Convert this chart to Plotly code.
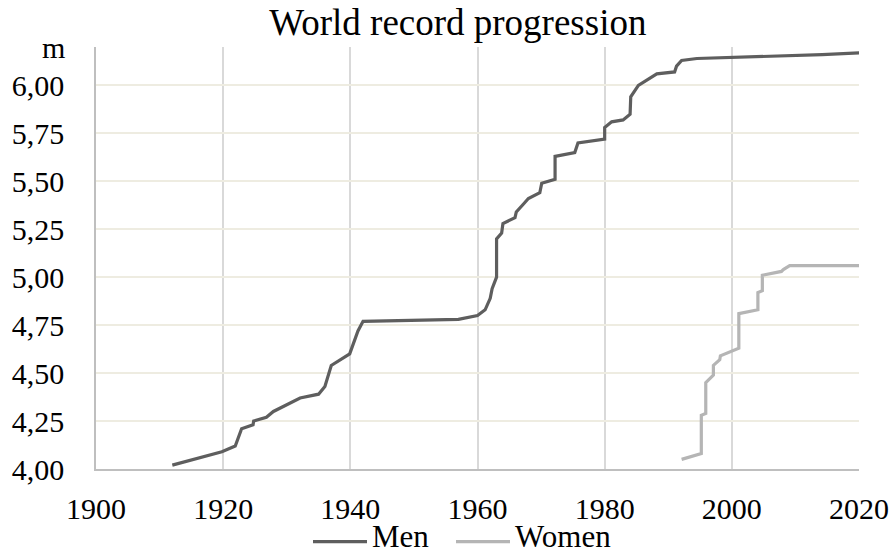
import plotly.graph_objects as go

# Men's pole vault world record progression (year, metres)
men_years = [1912.0, 1919.8, 1921.9, 1922.9, 1924.7, 1924.8, 1926.8, 1927.9, 1932.1, 1935.0,
             1936.0, 1937.0, 1939.9, 1941.2, 1942.0, 1957.0, 1960.0, 1961.2, 1962.0, 1962.3,
             1963.0, 1963.0, 1963.8, 1964.0, 1965.9, 1966.1, 1967.2, 1968.0, 1969.8, 1970.1,
             1972.2, 1972.2, 1975.3, 1975.8, 1980.0, 1980.0, 1981.1, 1982.9, 1984.0, 1984.1,
             1985.3, 1988.2, 1991.0, 1991.3, 1992.1, 1994.5, 2014.2, 2020.1]
men_values = [4.02, 4.09, 4.12, 4.21, 4.23, 4.25, 4.27, 4.30, 4.37, 4.39,
              4.43, 4.54, 4.60, 4.72, 4.77, 4.78, 4.80, 4.83, 4.89, 4.94,
              5.00, 5.20, 5.23, 5.28, 5.31, 5.34, 5.38, 5.41, 5.44, 5.49,
              5.51, 5.63, 5.65, 5.70, 5.72, 5.78, 5.81, 5.82, 5.85, 5.94,
              6.00, 6.06, 6.07, 6.10, 6.13, 6.14, 6.16, 6.17]

women_years = [1992.1, 1995.2, 1995.2, 1995.9, 1995.9, 1997.1, 1997.1, 1998.1, 1998.2,
               2000.2, 2001.1, 2001.1, 2004.1, 2004.1, 2004.8, 2004.8, 2007.8, 2008.1,
               2009.1, 2020.1]
women_values = [4.05, 4.08, 4.28, 4.29, 4.45, 4.49, 4.54, 4.57, 4.59,
                4.62, 4.63, 4.81, 4.83, 4.92, 4.93, 5.01, 5.03, 5.04,
                5.06, 5.06]

series_names = ["Men", "Women"]
x_ticks = [1900, 1920, 1940, 1960, 1980, 2000, 2020]
y_ticks = [4.00, 4.25, 4.50, 4.75, 5.00, 5.25, 5.50, 5.75, 6.00]

FONT = "Liberation Serif"


def legend_label(name):
    return f'<span style="font-size:31px">{name}</span>'


fig = go.Figure()
fig.add_trace(go.Scatter(x=men_years, y=men_values, mode="lines",
                         name=legend_label(series_names[0]),
                         line=dict(color="#5E5E5E", width=3.2), legend="legend"))
fig.add_trace(go.Scatter(x=women_years, y=women_values, mode="lines",
                         name=legend_label(series_names[1]),
                         line=dict(color="#B5B5B5", width=3.2), legend="legend2"))

legend_common = dict(orientation="h", xref="container", yref="container",
                     xanchor="left", y=0, yanchor="bottom",
                     font=dict(family=FONT, size=14, color="black"),
                     bgcolor="rgba(0,0,0,0)", itemwidth=54, tracegroupgap=0)

fig.update_layout(
    width=896, height=558,
    margin=dict(l=96, r=37, t=47, b=89),
    paper_bgcolor="white", plot_bgcolor="white",
    separators=", ",
    font=dict(family=FONT, size=30, color="black"),
    title=dict(text="World record progression", x=0.511, xanchor="center",
               y=1 - 22 / 558, yanchor="middle", yref="container",
               font=dict(family=FONT, size=37, color="black")),
    showlegend=True,
    legend=dict(legend_common, x=308 / 896),
    legend2=dict(legend_common, x=451 / 896),
    xaxis=dict(range=[1900, 2020], tickvals=x_ticks, tickformat="d",
               showgrid=True, gridcolor="#D9D9D9", gridwidth=1.5,
               showline=True, linecolor="#BFBFBF", linewidth=1.5,
               zeroline=False, ticks="", ticklabelstandoff=12, automargin=False,
               tickfont=dict(family=FONT, size=30, color="black")),
    yaxis=dict(range=[4.0, 6.2], tickvals=y_ticks, tickformat=".2f",
               showgrid=True, gridcolor="#EEECE1", gridwidth=1.5,
               showline=True, linecolor="#BFBFBF", linewidth=1.5,
               zeroline=False, ticks="", ticklabelstandoff=24, automargin=False,
               tickfont=dict(family=FONT, size=30, color="black")),
    annotations=[dict(text="m", xref="paper", yref="paper", x=0, y=1,
                      xshift=-29, xanchor="right", yanchor="middle",
                      showarrow=False, font=dict(family=FONT, size=30, color="black"))],
)

fig.write_html("out.html", config={"displayModeBar": False},
               post_script="document.body.style.margin='0';document.body.style.overflow='hidden';")
